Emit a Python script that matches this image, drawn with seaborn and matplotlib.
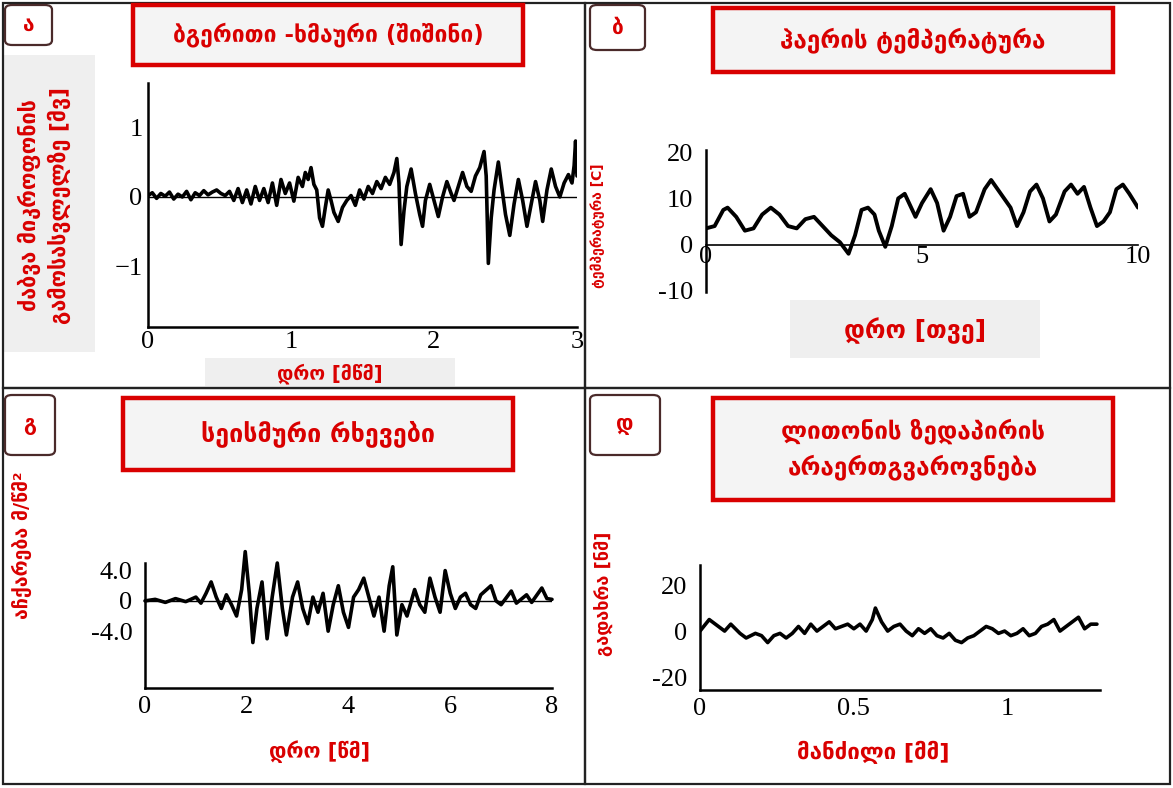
import numpy as np
import pandas as pd
import seaborn as sns
import matplotlib
matplotlib.use("Agg")
import matplotlib.pyplot as plt
from matplotlib.patches import Rectangle, FancyBboxPatch

# ---- data ----
# a) acoustic noise (hiss): time [ms], microphone voltage [mV]
noise_t = [0.00, 0.03, 0.06, 0.09, 0.12, 0.15, 0.18, 0.21, 0.24, 0.27, 0.30, 0.33, 0.36, 0.39,
           0.42, 0.45, 0.48, 0.51, 0.54, 0.57, 0.60, 0.63, 0.66, 0.69, 0.72, 0.75, 0.78, 0.81,
           0.84, 0.87, 0.90, 0.93, 0.96, 0.99, 1.02, 1.05, 1.08, 1.10, 1.12, 1.14, 1.16, 1.18,
           1.20, 1.22, 1.24, 1.26, 1.28, 1.30, 1.33, 1.36, 1.39, 1.42, 1.45, 1.48, 1.51, 1.54,
           1.57, 1.60, 1.63, 1.66, 1.69, 1.72, 1.74, 1.755, 1.77, 1.79, 1.81, 1.84, 1.87, 1.90,
           1.92, 1.94, 1.97, 2.00, 2.03, 2.06, 2.09, 2.12, 2.14, 2.17, 2.20, 2.23, 2.26, 2.29,
           2.32, 2.35, 2.365, 2.38, 2.40, 2.42, 2.45, 2.48, 2.50, 2.53, 2.56, 2.59, 2.62, 2.65,
           2.68, 2.71, 2.74, 2.76, 2.79, 2.82, 2.85, 2.88, 2.91, 2.94, 2.965, 2.98, 2.99, 3.00]
noise_v = [0.02, 0.06, -0.02, 0.05, 0.01, 0.07, -0.03, 0.04, 0.00, 0.08, -0.04, 0.06, 0.02, 0.09,
           0.03, 0.07, 0.10, 0.05, 0.02, 0.08, -0.05, 0.12, -0.08, 0.10, -0.10, 0.15, -0.05, 0.12,
           -0.08, 0.20, -0.12, 0.25, 0.05, 0.20, -0.06, 0.28, 0.15, 0.35, 0.25, 0.42, 0.18, 0.10,
           -0.30, -0.42, -0.15, 0.10, -0.05, -0.22, -0.35, -0.15, -0.05, 0.02, -0.12, 0.10, -0.03, 0.15,
           0.05, 0.22, 0.12, 0.28, 0.18, 0.35, 0.55, 0.20, -0.68, -0.20, 0.15, 0.40, 0.05, -0.25,
           -0.42, -0.05, 0.18, -0.05, -0.28, 0.00, 0.22, 0.05, -0.05, 0.15, 0.35, 0.15, 0.08, 0.30,
           0.42, 0.65, 0.30, -0.95, -0.30, 0.10, 0.50, 0.05, -0.25, -0.55, -0.10, 0.25, -0.05, -0.42,
           -0.10, 0.22, -0.05, -0.35, 0.10, 0.40, 0.15, 0.00, 0.20, 0.32, 0.20, 0.45, 0.80, 0.30]

# b) air temperature: time [months], temperature [C]
temp_t = [0.0, 0.2, 0.4, 0.5, 0.7, 0.9, 1.1, 1.3, 1.5, 1.7, 1.9, 2.1, 2.3, 2.5, 2.7, 2.9, 3.1,
          3.3, 3.45, 3.6, 3.75, 3.9, 4.0, 4.15, 4.3, 4.45, 4.6, 4.75, 4.85, 5.0, 5.2, 5.35, 5.5,
          5.65, 5.8, 5.95, 6.1, 6.25, 6.45, 6.6, 6.75, 6.9, 7.05, 7.2, 7.35, 7.5, 7.65, 7.8, 7.95,
          8.1, 8.3, 8.45, 8.6, 8.75, 8.9, 9.05, 9.2, 9.35, 9.5, 9.65, 9.8, 10.0]
temp_c = [3.5, 4.0, 7.5, 8.0, 6.0, 3.0, 3.5, 6.5, 8.0, 6.5, 4.0, 3.5, 5.5, 6.0, 4.0, 2.0, 0.5,
          -2.0, 2.0, 7.5, 8.0, 6.5, 3.0, -0.5, 4.0, 10.0, 11.0, 8.0, 6.0, 9.0, 12.0, 9.0, 3.0,
          6.0, 10.5, 11.0, 6.0, 7.0, 12.0, 14.0, 12.0, 10.0, 8.0, 4.0, 7.0, 11.5, 13.0, 10.0, 5.0,
          6.5, 11.5, 13.0, 11.0, 12.5, 8.0, 4.0, 5.0, 7.0, 12.0, 13.0, 11.0, 8.0]

# c) seismic vibration: time [s], acceleration [m/s^2]
seis_t = [0.0, 0.2, 0.4, 0.6, 0.8, 1.0, 1.1, 1.2, 1.3, 1.4, 1.5, 1.6, 1.7, 1.8, 1.9, 1.97, 2.05,
          2.12, 2.2, 2.3, 2.4, 2.5, 2.6, 2.7, 2.78, 2.9, 3.0, 3.1, 3.2, 3.3, 3.4, 3.5, 3.6, 3.7,
          3.8, 3.9, 4.0, 4.1, 4.2, 4.3, 4.4, 4.5, 4.6, 4.7, 4.8, 4.87, 4.95, 5.05, 5.15, 5.3, 5.4,
          5.5, 5.6, 5.7, 5.8, 5.9, 6.0, 6.1, 6.2, 6.3, 6.4, 6.5, 6.6, 6.8, 6.9, 7.0, 7.2, 7.3,
          7.5, 7.6, 7.8, 7.9, 8.0]
seis_a = [0.0, 0.2, -0.2, 0.3, -0.1, 0.5, -0.3, 1.0, 2.5, 0.5, -1.0, 0.8, -0.5, -2.0, 1.5, 6.5, 1.0,
          -5.5, -1.0, 2.5, -5.0, 0.5, 5.0, -1.0, -4.5, 0.5, 2.5, -1.0, -3.0, 0.5, -1.5, 1.0, -4.0, -0.5,
          2.0, -1.5, -3.5, 0.5, 1.5, 3.0, 0.5, -2.0, 0.5, -4.0, 2.0, 4.5, -4.5, -0.5, -2.0, 1.5, -0.5,
          -1.5, 3.0, 0.5, -1.5, 4.0, 1.0, -1.0, 0.5, 1.0, -0.5, -1.0, 0.8, 2.0, 0.0, -0.5, 1.3, -0.3,
          0.8, -0.2, 1.7, 0.3, 0.2]

# d) metal surface roughness: distance [mm], deviation [nm]
surf_x = [0.00, 0.03, 0.06, 0.08, 0.10, 0.13, 0.15, 0.18, 0.20, 0.22, 0.24, 0.26, 0.28, 0.30,
          0.32, 0.34, 0.36, 0.38, 0.40, 0.42, 0.44, 0.46, 0.48, 0.50, 0.52, 0.54, 0.56, 0.57,
          0.59, 0.61, 0.63, 0.65, 0.67, 0.69, 0.71, 0.73, 0.75, 0.77, 0.79, 0.81, 0.83, 0.85,
          0.87, 0.89, 0.91, 0.93, 0.95, 0.97, 0.99, 1.01, 1.03, 1.05, 1.07, 1.09, 1.11, 1.13,
          1.15, 1.17, 1.19, 1.21, 1.23, 1.25, 1.27, 1.29]
surf_h = [0, 5, 2, 0, 3, -1, -3, -1, -2, -5, -2, -1, -3, -1,
          2, -1, 3, 0, 2, 4, 1, 2, 3, 1, 3, 0, 5, 10,
          4, 0, 2, 3, 0, -2, 1, -1, 1, -2, -3, -1, -4, -5,
          -3, -2, 0, 2, 1, -1, 0, -2, -1, 1, -2, -1, 2, 3,
          5, 0, 2, 4, 6, 1, 3, 3]

panel_letters = ["ა", "ბ", "გ", "დ"]
titles = ["ბგერითი -ხმაური (შიშინი)", "ჰაერის ტემპერატურა", "სეისმური რხევები",
          "ლითონის ზედაპირის\nარაერთგვაროვნება"]
ylabels = ["ძაბვა მიკროფონის\nგამოსასვლელზე [მვ]", "ტემპერატურა [C]", "აჩქარება მ/წმ²", "გადახრა [ნმ]"]
xlabels = ["დრო [მწმ]", "დრო [თვე]", "დრო [წმ]", "მანძილი [მმ]"]

W, H = 1173, 788
RED = "#d90000"
GEO = ["DejaVu Sans"]
NUM = ["Liberation Serif", "DejaVu Serif"]

sns.set_theme(style="white")
plt.rcParams["font.family"] = GEO


def rect(l, t, r, b):
    # pixel box -> figure fraction [left, bottom, width, height]
    return [l / W, 1 - b / H, (r - l) / W, (b - t) / H]


def fx(x):
    return x / W


def fy(y):
    return 1 - y / H


def style_axes(ax, xticks, xlabels_, yticks, ylabels_):
    ax.set_facecolor("none")
    for s in ["top", "right"]:
        ax.spines[s].set_visible(False)
    for s in ["left", "bottom"]:
        ax.spines[s].set_color("black")
        ax.spines[s].set_linewidth(1.8)
    ax.set_xticks(xticks)
    ax.set_xticklabels(xlabels_, fontfamily=NUM, fontsize=19)
    ax.set_yticks(yticks)
    ax.set_yticklabels(ylabels_, fontfamily=NUM, fontsize=19)
    ax.tick_params(axis="both", direction="in", length=6, width=1.2, colors="black", pad=4)
    ax.set_xlabel("")
    ax.set_ylabel("")


fig = plt.figure(figsize=(W / 100, H / 100), dpi=100)
fig.patch.set_facecolor("white")

# panel frames
for l, t, r, b in [(3, 3, 585, 388), (585, 3, 1170, 388), (3, 388, 585, 784), (585, 388, 1170, 784)]:
    fig.add_artist(Rectangle((fx(l), fy(b)), (r - l) / W, (b - t) / H, transform=fig.transFigure,
                             fill=False, edgecolor="#222222", lw=1.6))

# grey backgrounds behind some labels
for l, t, r, b in [(3, 55, 95, 352), (205, 358, 455, 386), (790, 300, 1040, 358)]:
    fig.add_artist(Rectangle((fx(l), fy(b)), (r - l) / W, (b - t) / H, transform=fig.transFigure,
                             facecolor="#efefef", edgecolor="none", zorder=0))

# ---- a) acoustic noise ----
ax = fig.add_axes(rect(148, 83, 577, 327))
sns.lineplot(x=noise_t, y=noise_v, ax=ax, color="black", lw=2.6, estimator=None)
ax.axhline(0, color="black", lw=1.0)
ax.set_xlim(0, 3)
ax.set_ylim(-1.86, 1.63)
style_axes(ax, [0, 1, 2, 3], ["0", "1", "2", "3"], [1, 0, -1], ["1", "0", "−1"])
ax.tick_params(axis="x", length=0, pad=3)

# ---- b) air temperature ----
ax = fig.add_axes(rect(706, 150, 1138, 292))
sns.lineplot(x=temp_t, y=temp_c, ax=ax, color="black", lw=2.8, estimator=None)
ax.set_xlim(0, 10)
ax.set_ylim(-10.3, 20.5)
ax.spines["bottom"].set_position(("data", 0))
style_axes(ax, [0, 5, 10], ["0", "5", "10"], [20, 10, 0, -10], ["20", "10", "0", "-10"])
ax.spines["bottom"].set_linewidth(1.2)
ax.tick_params(axis="x", length=0, pad=1)
ax.tick_params(axis="y", direction="out", length=5)

# ---- c) seismic vibration ----
ax = fig.add_axes(rect(145, 563, 552, 688))
sns.lineplot(x=seis_t, y=seis_a, ax=ax, color="black", lw=2.6, estimator=None)
for ln in ax.lines:
    ln.set_clip_on(False)
ax.axhline(0, color="black", lw=1.0)
ax.set_xlim(0, 8)
ax.set_ylim(-11.5, 5)
style_axes(ax, [0, 2, 4, 6, 8], ["0", "2", "4", "6", "8"], [4, 0, -4], ["4.0", "0", "-4.0"])
ax.tick_params(axis="x", length=0, pad=6)
ax.tick_params(axis="y", direction="out", length=5)

# ---- d) surface roughness ----
ax = fig.add_axes(rect(700, 565, 1100, 690))
sns.lineplot(x=surf_x, y=surf_h, ax=ax, color="black", lw=2.6, estimator=None)
ax.set_xlim(0, 1.3)
ax.set_ylim(-25.6, 28.7)
style_axes(ax, [0, 0.5, 1], ["0", "0.5", "1"], [20, 0, -20], ["20", "0", "-20"])
ax.tick_params(axis="x", length=0, pad=6)
ax.tick_params(axis="y", direction="out", length=5)

# ---- panel letter boxes ----
letter_boxes = [(5, 5, 52, 45), (590, 5, 645, 50), (5, 395, 55, 455), (590, 395, 660, 455)]
for (l, t, r, b), letter in zip(letter_boxes, panel_letters):
    fig.add_artist(FancyBboxPatch((fx(l), fy(b)), (r - l) / W, (b - t) / H,
                                  boxstyle="round,pad=0,rounding_size=0.006",
                                  transform=fig.transFigure, facecolor="white",
                                  edgecolor="#4a2a2a", lw=1.6))
    fig.text(fx((l + r) / 2), fy((t + b) / 2), letter, color=RED, fontsize=15,
             fontweight="bold", ha="center", va="center")

# ---- red title boxes ----
title_boxes = [(133, 5, 523, 65), (713, 8, 1113, 72), (123, 398, 513, 470), (713, 398, 1113, 500)]
title_sizes = [16.5, 17.5, 18, 17.5]
for (l, t, r, b), title, fs in zip(title_boxes, titles, title_sizes):
    fig.add_artist(Rectangle((fx(l), fy(b)), (r - l) / W, (b - t) / H, transform=fig.transFigure,
                             facecolor="#f4f4f4", edgecolor=RED, lw=3.2))
    fig.text(fx((l + r) / 2), fy((t + b) / 2), title, color=RED, fontsize=fs,
             fontweight="bold", ha="center", va="center", linespacing=1.5)

# ---- axis labels (placed as in the picture) ----
fig.text(fx(44), fy(205), ylabels[0], rotation=90, color=RED, fontsize=15.5,
         fontweight="bold", ha="center", va="center", linespacing=1.35)
fig.text(fx(598), fy(226), ylabels[1], rotation=90, color=RED, fontsize=10,
         fontweight="bold", ha="center", va="center")
fig.text(fx(22), fy(545), ylabels[2], rotation=90, color=RED, fontsize=14,
         fontweight="bold", ha="center", va="center")
fig.text(fx(603), fy(594), ylabels[3], rotation=90, color=RED, fontsize=13,
         fontweight="bold", ha="center", va="center")

fig.text(fx(330), fy(374), xlabels[0], color=RED, fontsize=14, fontweight="bold",
         ha="center", va="center")
fig.text(fx(915), fy(331), xlabels[1], color=RED, fontsize=18, fontweight="bold",
         ha="center", va="center")
fig.text(fx(320), fy(752), xlabels[2], color=RED, fontsize=15, fontweight="bold",
         ha="center", va="center")
fig.text(fx(873), fy(752), xlabels[3], color=RED, fontsize=16, fontweight="bold",
         ha="center", va="center")

fig.savefig("out.png", dpi=100)
